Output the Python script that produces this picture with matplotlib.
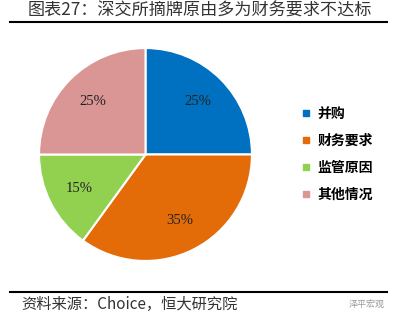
import numpy as np
import matplotlib.pyplot as plt
from matplotlib.lines import Line2D

plt.rcParams['font.family'] = ['Noto Sans CJK SC', 'DejaVu Sans']

categories = ['并购', '财务要求', '监管原因', '其他情况']
shares = [25, 35, 15, 25]
colors = ['#0070C0', '#E36C09', '#92D050', '#D99694']

fig = plt.figure(figsize=(3.99, 3.24), dpi=100)

ax = fig.add_axes([38 / 399, 1 - 262 / 324, 215 / 399, 215 / 324])
wedges, texts = ax.pie(shares, colors=colors, startangle=90, counterclock=False,
                       wedgeprops=dict(edgecolor='white', linewidth=1.5))
ax.set_xlim(-1.01, 1.01)
ax.set_ylim(-1.01, 1.01)
ax.set_aspect('equal')
for w, v in zip(wedges, shares):
    ang = np.deg2rad((w.theta1 + w.theta2) / 2)
    ax.text(0.7 * np.cos(ang), 0.7 * np.sin(ang), f'{v}%', ha='center', va='center',
            fontsize=10.5, family=['Liberation Serif', 'DejaVu Serif'], color='#222222')

handles = [Line2D([], [], marker='s', color='none', markerfacecolor=c, markeredgecolor=c,
                  markersize=4.5) for c in colors]
fig.legend(handles, categories, loc='upper left', bbox_to_anchor=(288 / 399, 1 - 94 / 324),
           frameon=False, prop=dict(family=['Noto Sans CJK SC'], size=10, weight='bold'),
           labelspacing=0.95, handlelength=0.8, handletextpad=0.45)

fig.text(0.5, 1 - 11 / 324, '图表27：深交所摘牌原由多为财务要求不达标', ha='center', va='center',
         fontsize=12.3, color='#333333')
fig.add_artist(Line2D([10 / 399, 387 / 399], [1 - 22 / 324, 1 - 22 / 324], color='black', lw=1.5))
fig.add_artist(Line2D([10 / 399, 387 / 399], [1 - 292 / 324, 1 - 292 / 324], color='black', lw=1.5))
fig.text(21 / 399, 1 - 304 / 324, '资料来源：Choice，恒大研究院', ha='left', va='center',
         fontsize=11, style='italic', color='#333333')
fig.text(385 / 399, 1 - 304 / 324, '泽平宏观', ha='right', va='center', fontsize=6.5, color='#999999')

fig.savefig('out.png', dpi=100, facecolor='white')
